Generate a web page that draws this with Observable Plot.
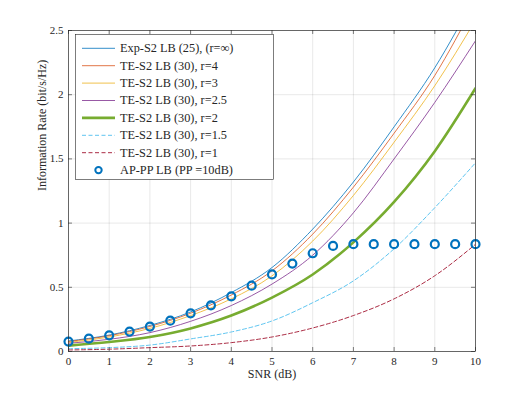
<!DOCTYPE html>
<html>
<head>
<meta charset="utf-8">
<script src="https://cdn.jsdelivr.net/npm/d3@7"></script>
<script src="https://cdn.jsdelivr.net/npm/@observablehq/plot@0.6"></script>
<style>
  html, body { margin: 0; padding: 0; background: #fff; }
  #chart { width: 526px; height: 395px; }
  #chart svg, #chart svg text { font-family: "Liberation Serif", "Times New Roman", serif !important; }
</style>
</head>
<body>
<div id="chart"></div>
<script>
// ---- data ----
const snr = [0, 1, 2, 3, 4, 5, 6, 7, 8, 9, 10];
const expS2Inf = [0.082, 0.128, 0.203, 0.308, 0.459, 0.654, 0.953, 1.32, 1.75, 2.21, 2.77];
const teR4     = [0.078, 0.123, 0.195, 0.298, 0.440, 0.628, 0.914, 1.28, 1.70, 2.15, 2.72];
const teR3     = [0.071, 0.113, 0.180, 0.280, 0.410, 0.589, 0.860, 1.215, 1.63, 2.07, 2.58];
const teR25    = [0.064, 0.095, 0.147, 0.235, 0.358, 0.525, 0.750, 1.08, 1.50, 1.94, 2.42];
const teR2     = [0.046, 0.074, 0.113, 0.180, 0.280, 0.420, 0.600, 0.85, 1.165, 1.56, 2.05];
const teR15    = [0.022, 0.030, 0.050, 0.098, 0.152, 0.238, 0.380, 0.55, 0.80, 1.12, 1.47];
const teR1     = [0.012, 0.018, 0.030, 0.043, 0.069, 0.113, 0.183, 0.28, 0.41, 0.59, 0.835];

const snrPP = [0, 0.5, 1, 1.5, 2, 2.5, 3, 3.5, 4, 4.5, 5, 5.5, 6, 6.5, 7, 7.5, 8, 8.5, 9, 9.5, 10];
const apPP  = [0.077, 0.100, 0.126, 0.155, 0.194, 0.240, 0.297, 0.360, 0.430, 0.513, 0.600, 0.685, 0.765, 0.822, 0.836, 0.836, 0.836, 0.836, 0.836, 0.836, 0.836];

const xTicks = [0, 1, 2, 3, 4, 5, 6, 7, 8, 9, 10];
const yTicks = [0, 0.5, 1, 1.5, 2, 2.5];
const xLabel = "SNR (dB)";
const yLabel = "Information Rate (bit/s/Hz)";

const seriesNames = [
  "Exp-S2 LB (25), (r=\u221E)",
  "TE-S2 LB (30), r=4",
  "TE-S2 LB (30), r=3",
  "TE-S2 LB (30), r=2.5",
  "TE-S2 LB (30), r=2",
  "TE-S2 LB (30), r=1.5",
  "TE-S2 LB (30), r=1"
];
const dotName = "AP-PP LB (PP =10dB)";
const seriesValues = [expS2Inf, teR4, teR3, teR25, teR2, teR15, teR1];
const colors = ["#0072BD", "#D95319", "#EDB120", "#7E2F8E", "#77AC30", "#4DBEEE", "#A2142F"];
const widths = [0.8, 0.8, 0.8, 0.8, 2.6, 0.9, 0.9];
const dashes = [null, null, null, null, null, "4,2.5", "4,2.5"];
const dotColor = "#0072BD";
const FONT = "Liberation Serif";

// ---- build ----
const lineMarks = seriesValues.map((vals, i) =>
  Plot.line(snr.map((x, j) => ({x, y: vals[j]})), {
    x: "x", y: "y",
    stroke: colors[i], strokeWidth: widths[i],
    strokeDasharray: dashes[i] || undefined,
    curve: "monotone-x", clip: true
  })
);

const tk = 0.031; // tick length in y units (~4px)
const tkx = 0.098; // tick length in x units (~4px)
const fmt = d => String(d);

const chart = Plot.plot({
  width: 526, height: 395,
  marginLeft: 68, marginRight: 51, marginTop: 30, marginBottom: 44,
  style: {fontFamily: FONT, fontSize: "11px", color: "#262626", background: "#fff"},
  x: {domain: [0, 10]},
  y: {domain: [0, 2.5]},
  marks: [
    Plot.ruleX(xTicks.slice(1, -1), {stroke: "#000", strokeOpacity: 0.09, strokeWidth: 1}),
    Plot.ruleY(yTicks.slice(1, -1), {stroke: "#000", strokeOpacity: 0.09, strokeWidth: 1}),
    ...lineMarks,
    Plot.dot(snrPP.map((x, j) => ({x, y: apPP[j]})), {x: "x", y: "y", r: 4, stroke: dotColor, strokeWidth: 2.2, fill: "none"}),
    Plot.ruleX(xTicks, {y1: 0, y2: tk, stroke: "#262626", strokeWidth: 0.6}),
    Plot.ruleX(xTicks, {y1: 2.5, y2: 2.5 - tk, stroke: "#262626", strokeWidth: 0.6}),
    Plot.ruleY(yTicks, {x1: 0, x2: tkx, stroke: "#262626", strokeWidth: 0.6}),
    Plot.ruleY(yTicks, {x1: 10, x2: 10 - tkx, stroke: "#262626", strokeWidth: 0.6}),
    Plot.frame({stroke: "#262626", strokeWidth: 0.7}),
    Plot.axisX(xTicks, {tickSize: 0, tickPadding: 6, label: null, fontSize: 11, tickFormat: fmt}),
    Plot.axisY(yTicks, {tickSize: 0, tickPadding: 5, label: null, fontSize: 11, tickFormat: fmt}),
    Plot.text([xLabel], {frameAnchor: "bottom", dy: 26, fontSize: 12, fill: "#262626"}),
    Plot.text([yLabel], {frameAnchor: "left", dx: -26, rotate: -90, fontSize: 12, fill: "#262626"})
  ]
});

document.getElementById("chart").appendChild(chart);

// ---- legend ----
const svg = d3.select(chart);
const lg = svg.append("g").attr("font-family", FONT).attr("font-size", "12.3px").attr("text-anchor", "start");
lg.append("rect").attr("x", 75.5).attr("y", 34.5).attr("width", 198).attr("height", 145)
  .attr("fill", "#fff").attr("stroke", "#262626").attr("stroke-width", 0.6);
const rowY = i => 48.3 + 17.4 * i;
seriesNames.forEach((name, i) => {
  lg.append("line").attr("x1", 82).attr("x2", 115).attr("y1", rowY(i)).attr("y2", rowY(i))
    .attr("stroke", colors[i]).attr("stroke-width", widths[i])
    .attr("stroke-dasharray", dashes[i] || null);
  lg.append("text").attr("x", 120).attr("y", rowY(i)).attr("dy", "0.32em").attr("fill", "#262626")
    .attr("text-anchor", "start").text(name);
});
lg.append("circle").attr("cx", 98.5).attr("cy", rowY(7)).attr("r", 3.2)
  .attr("fill", "none").attr("stroke", dotColor).attr("stroke-width", 2);
lg.append("text").attr("x", 120).attr("y", rowY(7)).attr("dy", "0.32em").attr("fill", "#262626")
  .attr("text-anchor", "start").text(dotName);
</script>
</body>
</html>
